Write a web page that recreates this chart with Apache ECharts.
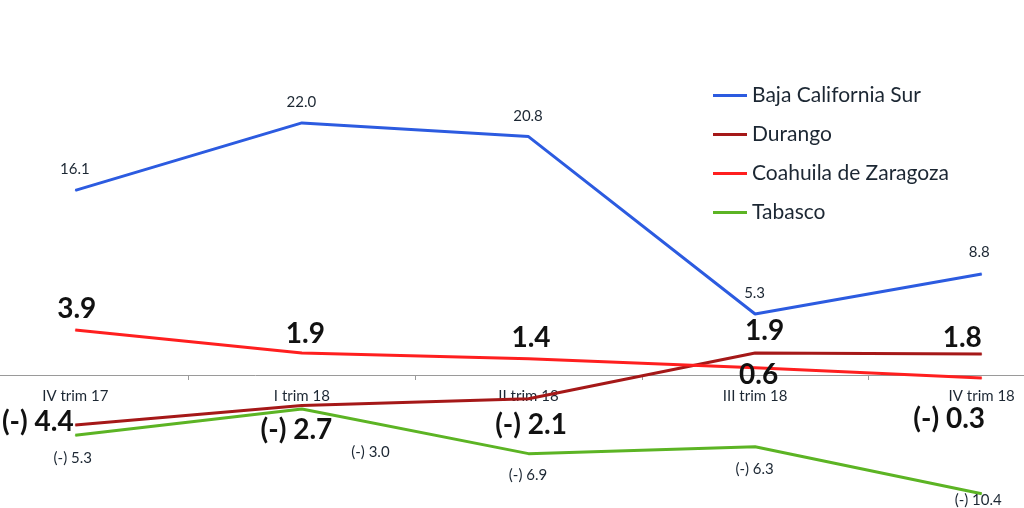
<!DOCTYPE html>
<html>
<head>
<meta charset="utf-8">
<script src="https://cdn.jsdelivr.net/npm/echarts@6/dist/echarts.min.js"></script>
<style>
  html, body { margin: 0; padding: 0; background: #fff; }
  #chart { width: 1024px; height: 508px; }
</style>
</head>
<body>
<div id="chart"></div>
<script>
// data
const categories = ['IV trim 17', 'I trim 18', 'II trim 18', 'III trim 18', 'IV trim 18']
const bajaCalifornia = [16.1, 22.0, 20.8, 5.3, 8.8]
const durango = [-4.4, -2.7, -2.1, 1.9, 1.8]
const coahuila = [3.9, 1.9, 1.4, 0.6, -0.3]
const tabasco = [-5.3, -3.0, -6.9, -6.3, -10.4]

// label centre relative to its point, in px: [dx, dy]
const bajaPos = [[0, -21], [0, -20], [0, -20], [0, -20], [-2, -21]]
const tabascoPos = [[-2, 23], [69, 44], [0, 22], [0, 23], [-3, 7]]
const durangoPos = [[-37, -3], [-5, 25], [3, 27], [10, -21], [-19, -16]]
const coahuilaPos = [[2, -21], [4, -18], [3, -20], [4, 8], [-32, 41]]

const fmt = v => (v < 0 ? '(-) ' + Math.abs(v).toFixed(1) : v.toFixed(1))

const smallLabel = { fontFamily: 'Lato', fontSize: 15, color: '#1c2733' }
const bigLabel = { fontFamily: 'Lato', fontSize: 28, fontWeight: 'bold', color: '#111' }

function buildData(values, pos, style) {
  return values.map((v, i) => ({
    value: v,
    label: Object.assign({
      show: true,
      position: pos[i],
      align: 'center',
      verticalAlign: 'middle',
      formatter: fmt(v)
    }, style)
  }))
}

function line(name, color, values, pos, style) {
  return {
    name: name,
    type: 'line',
    data: buildData(values, pos, style),
    showSymbol: true,
    symbol: 'circle',
    symbolSize: 1,
    lineStyle: { color: color, width: 3 },
    itemStyle: { color: color },
    labelLayout: { hideOverlap: false }
  }
}

const chart = echarts.init(document.getElementById('chart'))
const option = {
  backgroundColor: '#fff',
  animation: false,
  legend: {
    orient: 'vertical',
    left: 708,
    top: 80,
    itemWidth: 34,
    itemHeight: 3,
    itemGap: 18,
    icon: 'rect',
    textStyle: { fontFamily: 'Lato', fontSize: 21, color: '#1c2733', lineHeight: 19 },
    data: ['Baja California Sur', 'Durango', 'Coahuila de Zaragoza', 'Tabasco']
  },
  grid: { left: -38, right: -71, top: 100, height: 412, outerBoundsMode: 'none', containLabel: false },
  xAxis: {
    type: 'category',
    boundaryGap: true,
    data: categories,
    offset: -137,
    axisLine: { onZero: false, lineStyle: { color: '#9a9a9a', width: 1 } },
    axisTick: { show: true, length: 5, lineStyle: { color: '#9a9a9a' } },
    axisLabel: { margin: 14, fontFamily: 'Lato', fontSize: 15, color: '#1c2733' }
  },
  yAxis: {
    type: 'value',
    min: -12,
    max: 24,
    show: false
  },
  series: [
    line('Baja California Sur', '#2c5be0', bajaCalifornia, bajaPos, smallLabel),
    line('Durango', '#a51818', durango, durangoPos, bigLabel),
    line('Coahuila de Zaragoza', '#ff1f1f', coahuila, coahuilaPos, bigLabel),
    line('Tabasco', '#5cb424', tabasco, tabascoPos, smallLabel)
  ]
}
chart.setOption(option)
</script>
</body>
</html>
